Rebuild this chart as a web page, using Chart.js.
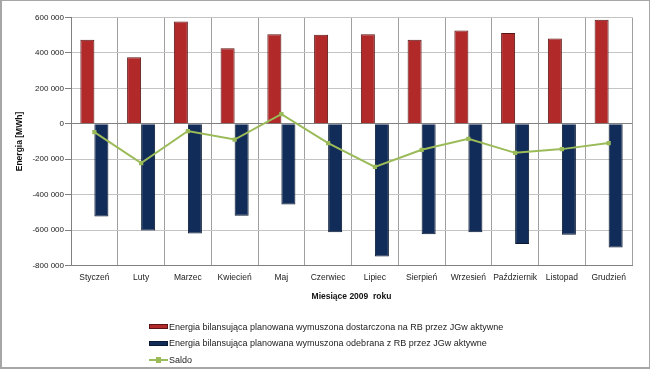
<!DOCTYPE html>
<html><head><meta charset="utf-8">
<script src="https://cdn.jsdelivr.net/npm/chart.js@4"></script>
<style>
html,body{margin:0;padding:0;background:#fff;}
#wrap{position:relative;width:650px;height:369px;overflow:hidden;background:#fff;}
#frame{position:absolute;left:0;top:0;width:650px;height:369px;box-sizing:border-box;border:2px solid #a6a6a6;border-right-width:1px;border-top-width:1px;pointer-events:none;}
canvas{position:absolute;left:0;top:0;}
#legend{position:absolute;left:149px;top:318.5px;font:9px "Liberation Sans",Arial,sans-serif;color:#222;}
.item{height:16.5px;display:flex;align-items:center;white-space:pre;}
.sw{width:19px;height:5px;margin-right:1px;box-sizing:border-box;border:1px solid;position:relative;}
.ln{width:19px;height:2px;margin-right:1px;position:relative;}
.ln i{position:absolute;left:7px;top:-2px;width:5px;height:6px;}
</style></head>
<body>
<div id="wrap">
<canvas id="c" width="650" height="369"></canvas>
<div id="legend"></div>
<div id="frame"></div>
</div>
<script>
const categories = ['Styczeń','Luty','Marzec','Kwiecień','Maj','Czerwiec','Lipiec','Sierpień','Wrzesień','Październik','Listopad','Grudzień'];
const delivered = [474000, 376000, 578000, 427000, 506000, 502000, 506000, 474000, 527000, 512000, 482000, 587000];
const received = [-523000, -602000, -619000, -519000, -455000, -613000, -749000, -623000, -613000, -679000, -627000, -698000];
const saldo = [-47000, -222000, -41000, -89000, 55000, -109000, -243000, -147000, -85000, -164000, -143000, -109000];
const seriesLabels = [
  'Energia bilansująca planowana wymuszona dostarczona na RB przez JGw aktywne',
  'Energia bilansująca planowana wymuszona odebrana z RB przez JGw aktywne',
  'Saldo'
];
const yTicks = [600000, 400000, 200000, 0, -200000, -400000, -600000, -800000];
const yTitle = 'Energia [MWh]';
const xTitle = 'Miesiące 2009  roku';

const FONT = '"Liberation Sans", Arial, sans-serif';
const fmt = v => {
  const s = Math.abs(v).toString().replace(/\B(?=(\d{3})+(?!\d))/g, ' ');
  return (v < 0 ? '-' : '') + s;
};

const colors = [
  {bg:'#B2292A', bd:'#5a1414'},
  {bg:'#122C59', bd:'#0a1830'},
  {bg:'#9BBB59', bd:'#9BBB59'}
];

const chart = new Chart(document.getElementById('c'), {
  data: {
    labels: categories,
    datasets: [
      {type:'bar', label: seriesLabels[0], data: delivered, backgroundColor: colors[0].bg, borderColor: colors[0].bd, borderWidth: 1, order: 1,
       categoryPercentage: 0.6, barPercentage: 1.0},
      {type:'bar', label: seriesLabels[1], data: received, backgroundColor: colors[1].bg, borderColor: colors[1].bd, borderWidth: 1, order: 1,
       categoryPercentage: 0.6, barPercentage: 1.0},
      {type:'line', label: seriesLabels[2], data: saldo, borderColor: colors[2].bg, backgroundColor: colors[2].bg, borderWidth: 2,
       pointStyle: 'rect', pointRadius: 3, pointBorderWidth: 0, tension: 0, order: 0}
    ]
  },
  options: {
    responsive: false,
    animation: false,
    events: [],
    layout: {padding: {left: 0, right: 18, top: 17.5, bottom: 63.5}},
    plugins: {legend: {display: false}, tooltip: {enabled: false}},
    scales: {
      x: {
        grid: {offset: true, drawTicks: false,
               color: ctx => (ctx.index === 12 ? '#808080' : '#a0a0a0'), lineWidth: 1},
        border: {display: true, color: '#808080', width: 1},
        ticks: {autoSkip: false, maxRotation: 0, padding: 7, color: '#222', font: {family: FONT, size: 8.5}},
        title: {display: true, text: xTitle, color: '#111', font: {family: FONT, size: 8.5, weight: 'bold'}, padding: {top: 4, bottom: 4}},
        afterFit: s => { s.height = 40; }
      },
      y: {
        min: -800000, max: 600000,
        afterBuildTicks: s => { s.ticks = yTicks.slice().reverse().map(v => ({value: v})); },
        grid: {color: ctx => (ctx.tick && ctx.tick.value === 0 ? '#808080' : '#c4c4c4'), lineWidth: 1,
               tickLength: 6, tickColor: '#808080'},
        border: {display: true, color: '#808080', width: 1},
        ticks: {padding: 1, color: '#222', font: {family: FONT, size: 8}, callback: v => fmt(v)},
        title: {display: true, text: yTitle, color: '#111', font: {family: FONT, size: 8.5, weight: 'bold'}, padding: {top: 15, bottom: 0}},
        afterFit: s => { s.width = 71; }
      }
    }
  }
});

const leg = document.getElementById('legend');
chart.data.datasets.forEach((ds, i) => {
  const item = document.createElement('div');
  item.className = 'item';
  const sw = document.createElement('span');
  if (ds.type === 'line') {
    sw.className = 'ln';
    sw.style.background = ds.borderColor;
    const m = document.createElement('i');
    m.style.background = ds.backgroundColor;
    sw.appendChild(m);
  } else {
    sw.className = 'sw';
    sw.style.background = ds.backgroundColor;
    sw.style.borderColor = ds.borderColor;
  }
  item.appendChild(sw);
  const t = document.createElement('span');
  t.textContent = ds.label;
  item.appendChild(t);
  leg.appendChild(item);
});
</script>
</body></html>
